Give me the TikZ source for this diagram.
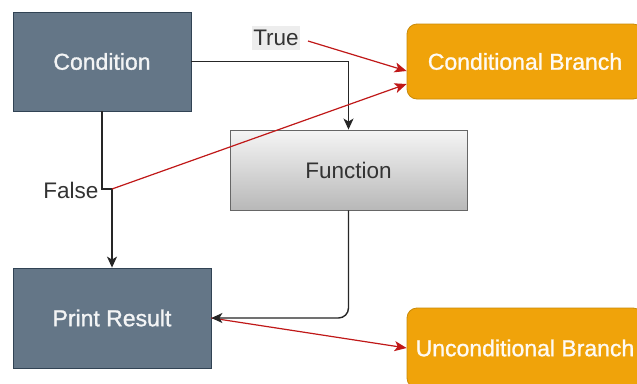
\documentclass[tikz,border=0pt]{standalone}
\usepackage{fontspec}
\setmainfont{Liberation Sans}
\newfontfamily\semibold[FakeBold=1.2]{Liberation Sans}
\usetikzlibrary{arrows.meta,positioning,calc}
\definecolor{slate}{HTML}{647687}
\definecolor{slateb}{HTML}{314354}
\definecolor{orng}{HTML}{F0A30A}
\definecolor{orngb}{HTML}{C98A08}
\definecolor{redl}{HTML}{C01818}
\definecolor{gtop}{HTML}{F5F5F5}
\definecolor{gbot}{HTML}{B8B8B8}
\tikzset{
  darkbox/.style={draw=slateb, fill=slate, line width=0.8pt, text=white!92!slate, font=\semibold\fontsize{23}{26}\selectfont, inner sep=0pt},
  orangebox/.style={draw=orngb, fill=orng, line width=0.8pt, rounded corners=10pt, text=white!95!orng, font=\semibold\fontsize{23}{26}\selectfont, inner sep=0pt},
  graybox/.style={draw=black!60, top color=gtop, bottom color=gbot, line width=0.9pt, text=black!80, font=\fontsize{22.5}{26}\selectfont, inner sep=0pt},
  lbl/.style={text=black!80, font=\fontsize{22.5}{26}\selectfont, inner sep=0pt},
  blk/.style={draw=black!85, line width=1.4pt, -{Stealth[length=11pt,width=10pt,inset=3pt]}},
  redarr/.style={draw=redl, line width=1.2pt, -{Stealth[length=12pt,width=10pt,inset=3pt]}},
}
\begin{document}
\begin{tikzpicture}[x=1pt,y=-1pt]
\useasboundingbox (0,0) rectangle (637,383);
\clip (0,0) rectangle (637,383);
\fill[white] (0,0) rectangle (637,383);

\node[darkbox, minimum width=178pt, minimum height=99pt] (cond) at (102,61.5) {Condition};
\node[graybox, minimum width=237pt, minimum height=80pt] (func) at (348.5,170) {Function};
\node[darkbox, minimum width=198pt, minimum height=100pt] (print) at (112,318) {Print Result};
\node[orangebox, minimum width=236pt, minimum height=75pt] (cb) at (525,61.5) {Conditional Branch};
\node[orangebox, minimum width=236pt, minimum height=80pt] (ub) at (525,348) {Unconditional Branch};

\node[lbl, fill=black!7, minimum width=48pt, minimum height=24pt] (tl) at (276,38) {True};
\node[lbl] (fl) at (71,190) {False};

\coordinate (fa) at (102,189);
\coordinate (fj) at (112,189);
\coordinate (ts) at (308,41);
\coordinate (cbt) at (cb.west |- 0,71);
\coordinate (cbf) at (cb.west |- 0,84);

% black connectors
\draw[blk] (cond.east) -| (func.north);
\draw[blk] (cond.south) -- (fa) -- (fj) -- (fj |- print.north);

% red connectors
\draw[redarr] (ts) -- (cbt);
\draw[redarr] (fj) -- (cbf);
\draw[redarr] (print.east) -- (ub.west);

\draw[blk, rounded corners=10pt] (func.south) |- (print.east);
\end{tikzpicture}
\end{document}
